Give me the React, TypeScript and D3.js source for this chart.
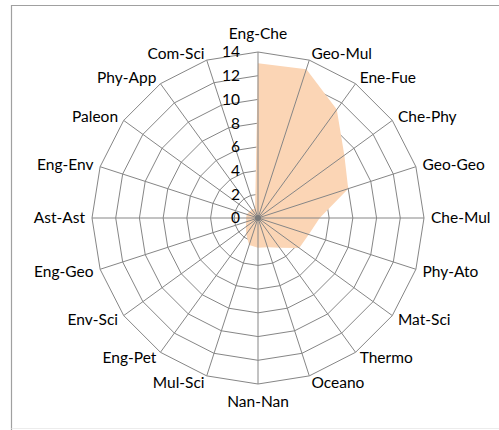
import * as d3 from "d3"

const categories = [
    "Eng-Che", "Geo-Mul", "Ene-Fue", "Che-Phy", "Geo-Geo", "Che-Mul", "Phy-Ato", "Mat-Sci", "Thermo", "Oceano",
    "Nan-Nan", "Mul-Sci", "Eng-Pet", "Env-Sci", "Eng-Geo", "Ast-Ast", "Eng-Env", "Paleon", "Phy-App", "Com-Sci",
]
const values = [13.05, 13.2, 11.3, 9.0, 8.0, 5.2, 4.5, 4.3, 3.1, 2.6, 2.5, 2.4, 1.7, 1.25, 1.05, 1.0, 1.0, 0.9, 0.9, 0.8]
const ticks = [0, 2, 4, 6, 8, 10, 12, 14]

const W = 499
const H = 430
const CX = 258
const CY = 218
const R = 166
const FONT = "Lato, 'Open Sans', sans-serif"
const GRID = "#868686"

export default function App() {
    const r = d3.scaleLinear().domain([0, 14]).range([0, R])
    const angle = (i: number) => (i * 2 * Math.PI) / categories.length

    const ring = (v: number) =>
        d3.lineRadial<number>()
            .angle((_, i) => angle(i))
            .radius(() => r(v))
            .curve(d3.curveLinearClosed)(categories.map((_, i) => i)) as string

    const area = d3.lineRadial<number>()
        .angle((_, i) => angle(i))
        .radius((d) => r(d))
        .curve(d3.curveLinearClosed)(values) as string

    return (
        <svg width={W} height={H} style={{ position: "fixed", left: 0, top: 0 }}>
            <rect x={0} y={0} width={W} height={H} fill="#fff" />
            <path d={`M11.5,430 V5.5 H${W}`} fill="none" stroke="#a0a0a0" strokeWidth={1.2} />
            <line x1={11.5} x2={W} y1={428.5} y2={428.5} stroke="#ececec" />
            <g transform={`translate(${CX},${CY})`}>
                {ticks.slice(1).map((t) => (
                    <path key={t} d={ring(t)} fill="none" stroke={GRID} strokeWidth={1} />
                ))}
                <path d={area} fill="#FBD5B5" />
                {categories.map((c, i) => {
                    const a = angle(i)
                    return (
                        <line key={c} x1={0} y1={0} x2={R * Math.sin(a)} y2={-R * Math.cos(a)}
                            stroke={GRID} strokeWidth={1} />
                    )
                })}
                <circle r={3} fill="#7a7a7a" />
                {ticks.map((t) => (
                    <text key={t} x={-18} y={-r(t)} dy="0.35em" textAnchor="end"
                        fontFamily={FONT} fontSize={15.5} fill="#000">{t}</text>
                ))}
                {categories.map((c, i) => {
                    const a = angle(i)
                    const s = Math.sin(a)
                    const co = Math.cos(a)
                    let x = (R + 7) * s
                    let y = -(R + 7) * co
                    let anchor = s > 0.01 ? "start" : s < -0.01 ? "end" : "middle"
                    if (anchor === "middle") y = co > 0 ? -(R + 18) : R + 18
                    return (
                        <text key={c} x={x} y={y} dy="0.35em" textAnchor={anchor}
                            fontFamily={FONT} fontSize={15.5} fill="#000">{c}</text>
                    )
                })}
            </g>
        </svg>
    )
}
